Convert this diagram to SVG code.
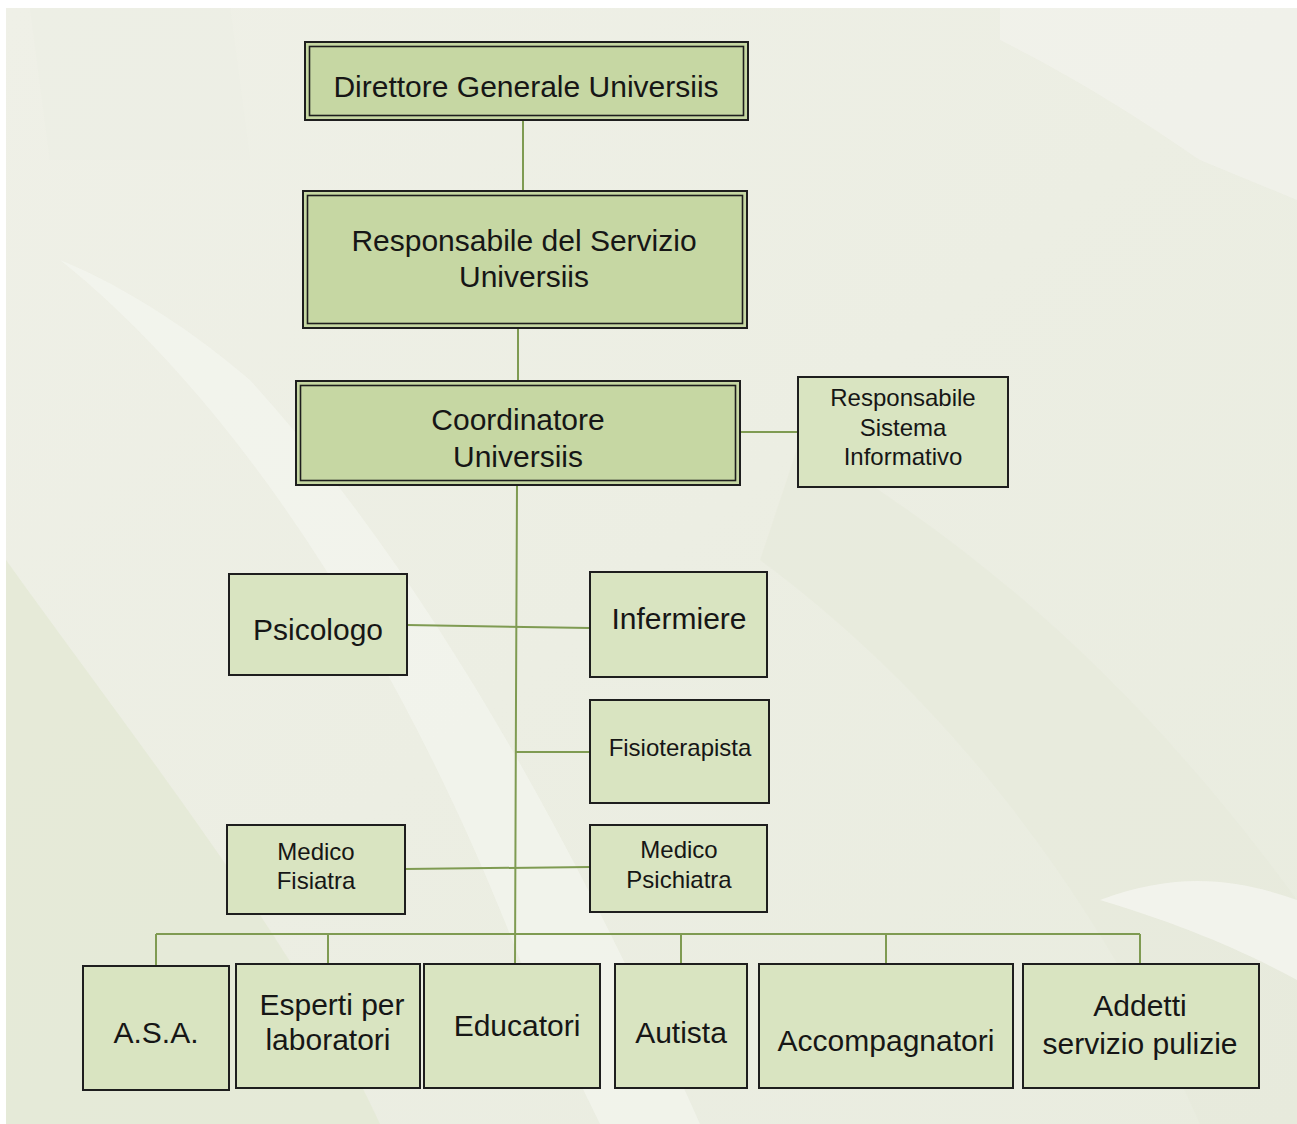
<svg xmlns="http://www.w3.org/2000/svg" width="1297" height="1124" viewBox="0 0 1297 1124">
<defs>
<style>
.lbl{font-family:"Liberation Sans",Arial,sans-serif;fill:#161616;text-anchor:middle}
.big{font-size:30px}
.sm{font-size:24px}
.main{fill:#c6d7a3;stroke:#1e1e1e;stroke-width:2}
.inner{fill:none;stroke:#1e1e1e;stroke-width:1.6}
.box{fill:#d9e4c1;stroke:#1e1e1e;stroke-width:2}
.conn{stroke:#7f9b52;stroke-width:2;fill:none}
</style>
<linearGradient id="bg" x1="0" y1="0" x2="1" y2="1">
<stop offset="0" stop-color="#eff0e7"/>
<stop offset="1" stop-color="#e9ecdf"/>
</linearGradient>
</defs>
<rect x="0" y="0" width="1297" height="1124" fill="#ffffff"/>
<g id="background">
<rect x="6" y="8" width="1291" height="1116" fill="url(#bg)"/>
<path d="M6 560 C150 760 300 950 380 1124 L6 1124 Z" fill="#e3e8d5" opacity="0.8"/>
<path d="M60 260 C260 420 420 700 520 960 L600 1124 L700 1124 C600 900 450 600 250 380 C180 320 110 280 60 260 Z" fill="#f6f7f2" opacity="0.55"/>
<path d="M800 440 C1000 560 1150 700 1297 900 L1297 1124 L1200 1124 C1100 900 950 700 760 560 Z" fill="#e6eadb" opacity="0.6"/>
<path d="M1100 900 C1200 930 1260 960 1297 980 L1297 900 C1240 880 1180 870 1100 900 Z" fill="#f6f7f2" opacity="0.7"/>
<path d="M1000 40 C1100 90 1170 140 1200 160 L1297 200 L1297 8 L1000 8 Z" fill="#f3f4ee" opacity="0.6"/>
<path d="M30 8 L230 8 L250 160 L50 160 Z" fill="#ebeee4" opacity="0.5"/>
</g>
<g id="connectors">
<line class="conn" x1="523" y1="121" x2="523" y2="190"/>
<line class="conn" x1="518" y1="329" x2="518" y2="380"/>
<polyline class="conn" points="517,486 516,700 515,965"/>
<line class="conn" x1="741" y1="432" x2="798" y2="432"/>
<line class="conn" x1="407" y1="625" x2="590" y2="628"/>
<line class="conn" x1="516" y1="752" x2="590" y2="752"/>
<line class="conn" x1="405" y1="869" x2="590" y2="867"/>
<line class="conn" x1="156" y1="934" x2="1140" y2="934"/>
<line class="conn" x1="156" y1="934" x2="156" y2="966"/>
<line class="conn" x1="328" y1="934" x2="328" y2="964"/>
<line class="conn" x1="681" y1="934" x2="681" y2="964"/>
<line class="conn" x1="886" y1="934" x2="886" y2="964"/>
<line class="conn" x1="1140" y1="934" x2="1140" y2="964"/>
</g>
<g id="direttore">
<rect class="main" x="305" y="42" width="443" height="78"/>
<rect class="inner" x="309.5" y="46.5" width="434" height="69"/>
<text class="lbl big" x="526" y="97">Direttore Generale Universiis</text>
</g>
<g id="responsabile-servizio">
<rect class="main" x="303" y="191" width="444" height="137"/>
<rect class="inner" x="307.5" y="195.5" width="435" height="128"/>
<text class="lbl big" x="524" y="251">Responsabile del Servizio</text>
<text class="lbl big" x="524" y="287">Universiis</text>
</g>
<g id="coordinatore">
<rect class="main" x="296" y="381" width="444" height="104"/>
<rect class="inner" x="300.5" y="385.5" width="435" height="95"/>
<text class="lbl big" x="518" y="430">Coordinatore</text>
<text class="lbl big" x="518" y="467">Universiis</text>
</g>
<g id="responsabile-sistema">
<rect class="box" x="798" y="377" width="210" height="110"/>
<text class="lbl sm" x="903" y="406">Responsabile</text>
<text class="lbl sm" x="903" y="436">Sistema</text>
<text class="lbl sm" x="903" y="465">Informativo</text>
</g>
<g id="psicologo">
<rect class="box" x="229" y="574" width="178" height="101"/>
<text class="lbl big" x="318" y="640">Psicologo</text>
</g>
<g id="infermiere">
<rect class="box" x="590" y="572" width="177" height="105"/>
<text class="lbl big" x="679" y="629">Infermiere</text>
</g>
<g id="fisioterapista">
<rect class="box" x="590" y="700" width="179" height="103"/>
<text class="lbl sm" x="680" y="756">Fisioterapista</text>
</g>
<g id="medico-fisiatra">
<rect class="box" x="227" y="825" width="178" height="89"/>
<text class="lbl sm" x="316" y="860">Medico</text>
<text class="lbl sm" x="316" y="889">Fisiatra</text>
</g>
<g id="medico-psichiatra">
<rect class="box" x="590" y="825" width="177" height="87"/>
<text class="lbl sm" x="679" y="858">Medico</text>
<text class="lbl sm" x="679" y="888">Psichiatra</text>
</g>
<g id="asa">
<rect class="box" x="83" y="966" width="146" height="124"/>
<text class="lbl big" x="156" y="1043">A.S.A.</text>
</g>
<g id="esperti">
<rect class="box" x="236" y="964" width="184" height="124"/>
<text class="lbl big" x="332" y="1015">Esperti per</text>
<text class="lbl big" x="328" y="1050">laboratori</text>
</g>
<g id="educatori">
<rect class="box" x="424" y="964" width="176" height="124"/>
<text class="lbl big" x="517" y="1036">Educatori</text>
</g>
<g id="autista">
<rect class="box" x="615" y="964" width="132" height="124"/>
<text class="lbl big" x="681" y="1043">Autista</text>
</g>
<g id="accompagnatori">
<rect class="box" x="759" y="964" width="254" height="124"/>
<text class="lbl big" x="886" y="1051">Accompagnatori</text>
</g>
<g id="addetti">
<rect class="box" x="1023" y="964" width="236" height="124"/>
<text class="lbl big" x="1140" y="1016">Addetti</text>
<text class="lbl big" x="1140" y="1054">servizio pulizie</text>
</g>
</svg>
